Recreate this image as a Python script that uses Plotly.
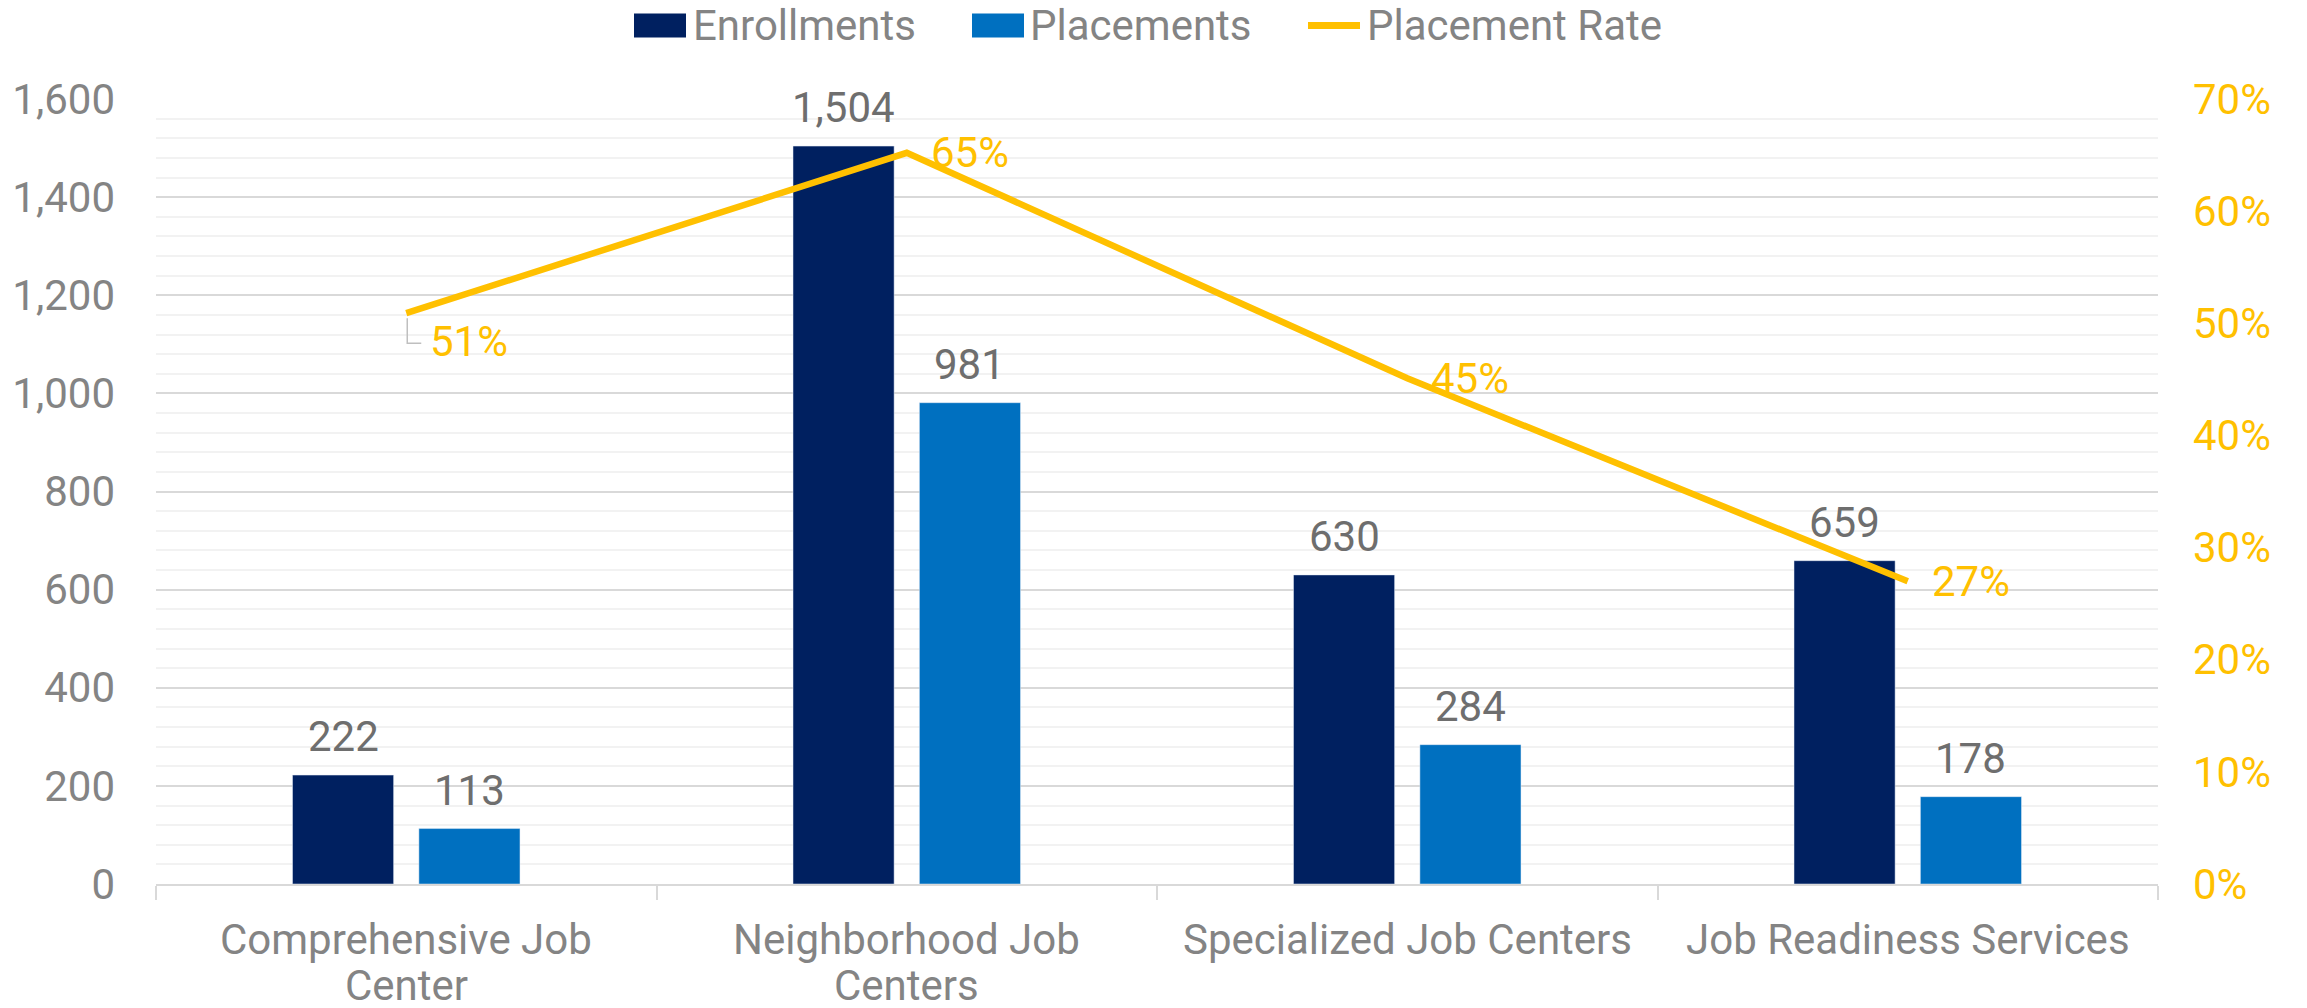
import plotly.graph_objects as go

# ---------------- data ----------------
categories = ["Comprehensive Job Center", "Neighborhood Job Centers",
              "Specialized Job Centers", "Job Readiness Services"]
category_lines = [["Comprehensive Job", "Center"], ["Neighborhood Job", "Centers"],
                  ["Specialized Job Centers"], ["Job Readiness Services"]]
enrollments = [222, 1504, 630, 659]
placements = [113, 981, 284, 178]
placement_rate = [0.509, 0.652, 0.451, 0.270]
rate_labels = ["51%", "65%", "45%", "27%"]
left_ticks = [0, 200, 400, 600, 800, 1000, 1200, 1400, 1600]
right_ticks = [0, 0.1, 0.2, 0.3, 0.4, 0.5, 0.6, 0.7]
series_names = ["Enrollments", "Placements", "Placement Rate"]

# ---------------- styling ----------------
NAVY = "#002060"
BLUE = "#0070C0"
GOLD = "#FFC000"
AXIS_GRAY = "#848484"
LABEL_GRAY = "#6E6E6E"
GRID = "#D9D9D9"
MINOR_GRID = "#F2F2F2"
FONT = "Roboto"
FS = 42

W, H = 2307, 1008
L, R, T, B = 156, 149, 99, 124
PW, PH = W - L - R, H - T - B
BARGAP, GROUPGAP = 0.495, 0.2
# pixel offset of each bar centre from the category centre
slot = (1 - BARGAP) * (PW / len(categories)) / 2
bar_offsets = [-slot / 2, slot / 2]


def px(x):
    return (x - L) / PW


def py(y):
    return 1 + (T - y) / PH


fig = go.Figure()
for vals, name, col in [(enrollments, series_names[0], NAVY),
                        (placements, series_names[1], BLUE)]:
    fig.add_trace(go.Bar(x=categories, y=vals, name=name, marker_color=col,
                         showlegend=False))
fig.add_trace(go.Scatter(
    x=categories, y=placement_rate, name=series_names[2], yaxis="y2",
    mode="lines", line=dict(color=GOLD, width=6.5), showlegend=False,
    cliponaxis=False,
))

annotations = []
shapes = []

# category labels (wrapped, tighter line spacing)
for c, lines in zip(categories, category_lines):
    for k, line in enumerate(lines):
        ann = dict(
            x=c, y=0, xref="x", yref="paper", text=line, showarrow=False,
            xanchor="center", yanchor="middle", yshift=-(55 + 46 * k),
            font=dict(family=FONT, size=FS, color=AXIS_GRAY),
        )
        if k > 0:
            ann["height"] = 40
        annotations.append(ann)

# bar value labels
for vals, off in [(enrollments, bar_offsets[0]), (placements, bar_offsets[1])]:
    for c, v in zip(categories, vals):
        annotations.append(dict(
            x=c, y=v, xref="x", yref="y", text=f"{v:,}", showarrow=False,
            xanchor="center", yanchor="bottom", xshift=off, yshift=12,
            font=dict(family=FONT, size=FS, color=LABEL_GRAY),
        ))

# rate labels
for i, (c, r, lab) in enumerate(zip(categories, placement_rate, rate_labels)):
    if i == 0:
        xs, ys = 22, -28
        shapes.append(dict(
            type="path", xref="x", yref="y2", xsizemode="pixel", ysizemode="pixel",
            xanchor=c, yanchor=r, path="M1,-5 L1,-30 L15,-30",
            line=dict(color="#BFBFBF", width=1.5),
        ))
    else:
        xs, ys = 22, 0
    annotations.append(dict(
        x=c, y=r, xref="x", yref="y2", text=lab, showarrow=False,
        xanchor="left", yanchor="middle", xshift=xs, yshift=ys,
        font=dict(family=FONT, size=FS, color=GOLD),
    ))

# ---------------- manual legend ----------------
leg_y = 25.5
for (x0, x1, col) in [(634, 686, NAVY), (972, 1024, BLUE)]:
    shapes.append(dict(type="rect", xref="paper", yref="paper",
                       x0=px(x0), x1=px(x1), y0=py(leg_y - 12), y1=py(leg_y + 12),
                       fillcolor=col, line=dict(width=0), layer="above"))
shapes.append(dict(type="line", xref="paper", yref="paper",
                   x0=px(1308), x1=px(1360), y0=py(leg_y), y1=py(leg_y),
                   line=dict(color=GOLD, width=7), layer="above"))
for name, x0 in zip(series_names, [691, 1028, 1365]):
    annotations.append(dict(
        x=px(x0), y=py(leg_y), xref="paper", yref="paper", text=name,
        showarrow=False, xanchor="left", yanchor="middle",
        font=dict(family=FONT, size=FS, color=AXIS_GRAY),
    ))

fig.update_layout(
    width=W, height=H,
    margin=dict(l=L, r=R, t=T, b=B, autoexpand=False),
    paper_bgcolor="white", plot_bgcolor="white",
    barmode="group", bargap=BARGAP, bargroupgap=GROUPGAP,
    font=dict(family=FONT, size=FS, color=AXIS_GRAY),
    showlegend=False,
    annotations=annotations, shapes=shapes,
    xaxis=dict(
        type="category", tickson="boundaries", ticks="outside", ticklen=14,
        tickwidth=2, tickcolor=GRID, showline=True, linecolor=GRID, linewidth=2,
        showgrid=False, showticklabels=False,
    ),
    yaxis=dict(
        range=[0, 1600], tickvals=left_ticks, tickformat=",",
        showgrid=True, gridcolor=GRID, gridwidth=2, zeroline=False,
        ticks="", ticklabelstandoff=40,
        tickfont=dict(family=FONT, size=FS, color=AXIS_GRAY),
        minor=dict(dtick=40, showgrid=True, gridcolor=MINOR_GRID, gridwidth=1.5),
    ),
    yaxis2=dict(
        range=[0, 0.7], tickvals=right_ticks, tickformat=".0%", overlaying="y",
        side="right", showgrid=False, zeroline=False, ticks="",
        ticklabelstandoff=34, tickfont=dict(family=FONT, size=FS, color=GOLD),
    ),
)

fig.write_html("out.html", config={"displayModeBar": False},
               post_script="document.body.style.margin='0';"
                           "document.body.style.overflow='hidden';")
